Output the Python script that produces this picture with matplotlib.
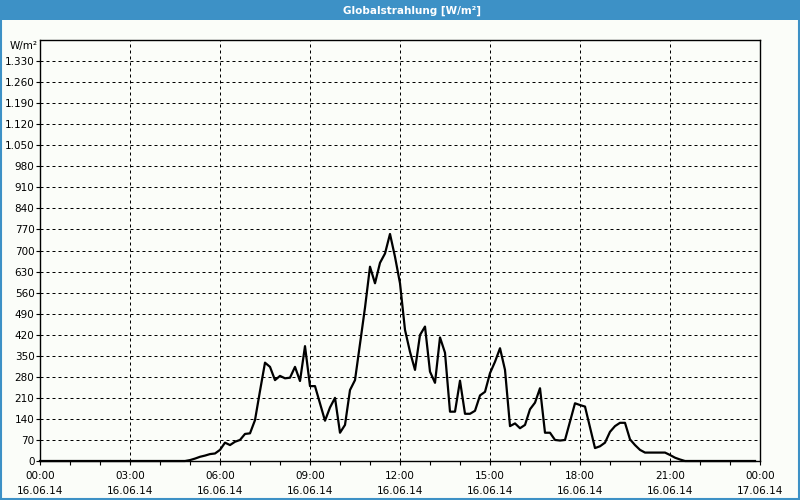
import matplotlib
matplotlib.use("Agg")
import matplotlib.pyplot as plt
from matplotlib.patches import Rectangle
from matplotlib.ticker import MultipleLocator, FixedLocator
import numpy as np

# 10-minute samples, 00:00 .. 23:50 (hours)
times_h = [i / 6 for i in range(144)]
radiation = [
    # 00:00 - 04:50
    0, 0, 0, 0, 0, 0, 0, 0, 0, 0, 0, 0, 0, 0, 0, 0, 0, 0, 0, 0, 0, 0, 0, 0, 0, 0, 0, 0, 0, 0,
    # 05:00 - 05:50
    3, 8, 14, 18, 23, 25,
    # 06:00 - 06:50
    37, 61, 53, 64, 70, 90,
    # 07:00 - 07:50
    92, 136, 233, 327, 313, 269,
    # 08:00 - 08:50
    283, 275, 277, 313, 266, 382,
    # 09:00 - 09:50
    249, 249, 192, 134, 178, 210,
    # 10:00 - 10:50
    94, 120, 236, 269, 390, 510,
    # 11:00 - 11:50
    646, 591, 659, 690, 755, 679,
    # 12:00 - 12:50
    591, 436, 363, 303, 419, 447,
    # 13:00 - 13:50
    297, 260, 411, 360, 164, 164,
    # 14:00 - 14:50
    267, 157, 157, 167, 218, 230,
    # 15:00 - 15:50
    292, 330, 375, 303, 116, 125,
    # 16:00 - 16:50
    109, 120, 172, 194, 242, 94,
    # 17:00 - 17:50
    94, 70, 68, 70, 131, 192,
    # 18:00 - 18:50
    186, 181, 112, 43, 49, 61,
    # 19:00 - 19:50
    97, 116, 127, 127, 72, 53,
    # 20:00 - 20:50
    37, 28, 28, 28, 28, 28,
    # 21:00 - 21:50
    20, 11, 5, 0, 0, 0,
    # 22:00 - 23:50
    0, 0, 0, 0, 0, 0, 0, 0, 0, 0, 0, 0,
]

x_tick_hours = [0, 3, 6, 9, 12, 15, 18, 21, 24]
x_tick_labels = ["00:00\n16.06.14", "03:00\n16.06.14", "06:00\n16.06.14",
                 "09:00\n16.06.14", "12:00\n16.06.14", "15:00\n16.06.14",
                 "18:00\n16.06.14", "21:00\n16.06.14", "00:00\n17.06.14"]
y_ticks = list(range(0, 1331, 70))
title = "Globalstrahlung [W/m²]"
unit = "W/m²"

bg = "#fbfdf9"
blue = "#3d91c6"

plt.rcParams["font.family"] = ["DejaVu Sans"]
fig = plt.figure(figsize=(8, 5), dpi=100, facecolor=bg)

# title bar and outer border
fig.patches.append(Rectangle((0, 1 - 20 / 500), 1, 20 / 500, transform=fig.transFigure,
                             facecolor=blue, edgecolor="none", zorder=0))
fig.patches.append(Rectangle((1 / 800, 1 / 500), 798 / 800, 498 / 500, transform=fig.transFigure,
                             facecolor="none", edgecolor=blue, linewidth=1.5, zorder=5))
fig.text(412 / 800, 1 - 10.5 / 500, title, color="white", fontsize=7.5, fontweight="bold",
         ha="center", va="center")
fig.text(10 / 800, 1 - 46 / 500, unit, fontsize=7.5, ha="left", va="center")

ax = fig.add_axes([40 / 800, 39 / 500, 720 / 800, 421 / 500])
ax.set_facecolor(bg)
ax.plot(times_h, radiation, color="black", linewidth=1.6, clip_on=False, zorder=3)

ax.set_xlim(0, 24)
ax.set_ylim(0, 1400)
ax.xaxis.set_major_locator(FixedLocator(x_tick_hours))
ax.xaxis.set_minor_locator(MultipleLocator(1))
ax.set_xticks(x_tick_hours)
ax.set_xticklabels(x_tick_labels, fontsize=7.5, linespacing=1.6)
ax.set_yticks(y_ticks)
ax.set_yticklabels([f"{v:,}".replace(",", ".") for v in y_ticks], fontsize=7.5)
ax.tick_params(axis="both", which="both", direction="out", length=3, width=0.8, color="black")
ax.tick_params(axis="x", pad=4)
ax.tick_params(axis="y", pad=1)

ax.grid(True, which="major", color="black", linestyle=(0, (3, 3)), linewidth=0.72)
for s in ax.spines.values():
    s.set_linewidth(1.0)
    s.set_color("black")

fig.savefig("out.png", dpi=100, facecolor=bg)
